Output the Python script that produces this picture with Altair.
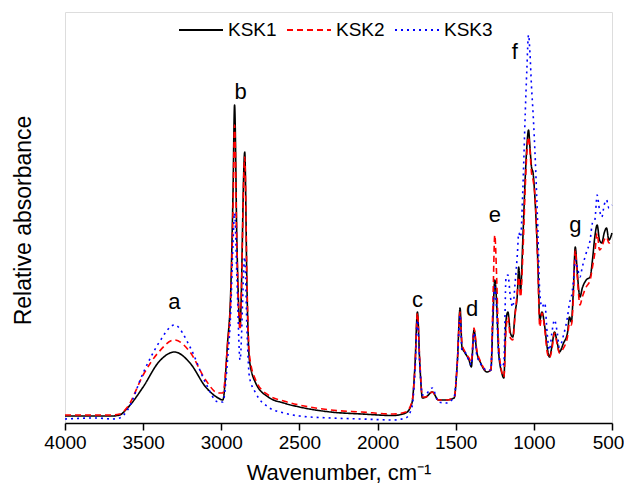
import altair as alt
import pandas as pd

# Espectros FTIR (absorbância relativa, unidades arbitrárias)
wavenumber = [4000, 3800, 3700, 3650, 3600, 3500, 3400, 3300, 3200, 3100, 3020, 2990,
              2960, 2940, 2925, 2915, 2900, 2880, 2850, 2835, 2820, 2780, 2700, 2600,
              2500, 2300, 2100, 1900, 1820, 1780, 1760, 1745, 1730, 1713, 1690, 1650,
              1610, 1560, 1510, 1490, 1472, 1460, 1440, 1415, 1400, 1383, 1365, 1340,
              1300, 1275, 1262, 1250, 1238, 1225, 1205, 1192, 1178, 1166, 1150, 1135,
              1120, 1105, 1097, 1085, 1070, 1055, 1045, 1034, 1025, 1015, 1005, 990,
              975, 962, 948, 930, 915, 900, 885, 868, 850, 837, 810, 785, 772, 760,
              748, 735, 722, 705, 690, 665, 640, 625, 610, 595, 580, 565, 550, 535,
              520, 500]
ksk1 = [7, 7, 7, 8, 15, 36, 61, 71, 60, 36, 25, 23,
        80, 130, 230, 318, 180, 98, 271, 130, 63, 40, 26, 20,
        16, 11, 9, 7.5, 10, 20, 60, 111, 60, 25, 26, 31,
        23, 23, 25, 60, 115, 76, 70, 63, 56, 93, 71, 60,
        51, 53, 103, 143, 120, 70, 50, 45, 103, 111, 90, 86,
        110, 130, 156, 133, 186, 246, 276, 293, 276, 256, 250, 216,
        163, 103, 111, 96, 76, 66, 76, 91, 80, 71, 80, 90, 106, 101,
        130, 176, 150, 126, 135, 143, 146, 163, 186, 198, 183, 180, 190, 195,
        183, 190]
ksk2 = [8, 8, 8, 9, 16, 48, 71, 83, 71, 43, 30, 30,
        78, 123, 213, 298, 175, 93, 266, 135, 68, 43, 28, 22,
        18, 13, 11, 9, 11, 21, 58, 110, 63, 26, 26, 31,
        23, 23, 25, 60, 111, 80, 71, 65, 61, 95, 73, 61,
        52, 53, 120, 188, 146, 78, 51, 46, 93, 106, 85, 83,
        108, 133, 146, 126, 170, 236, 270, 286, 273, 250, 243, 220,
        158, 96, 110, 93, 71, 65, 73, 90, 78, 70, 75, 86, 100, 98,
        123, 173, 146, 118, 126, 136, 143, 156, 170, 190, 173, 176, 183, 186,
        180, 183]
ksk3 = [4, 5, 4, 5, 13, 50, 80, 98, 76, 40, 21, 21,
        63, 110, 180, 210, 146, 63, 166, 90, 46, 30, 16, 10,
        7, 5, 4, 3, 5, 16, 53, 103, 58, 28, 29, 35,
        21, 20, 26, 60, 108, 73, 71, 62, 58, 90, 68, 59,
        53, 53, 110, 136, 113, 68, 56, 60, 146, 148, 126, 116,
        140, 170, 190, 186, 236, 310, 353, 388, 370, 336, 310, 260,
        196, 130, 116, 120, 90, 73, 90, 103, 90, 76, 88, 106, 120, 126,
        140, 163, 156, 146, 156, 170, 183, 200, 203, 228, 213, 206, 218, 223,
        215, 218]

series_names = ['KSK1', 'KSK2', 'KSK3']

# Letras das bandas
band_labels = ['a', 'b', 'c', 'd', 'e', 'f', 'g']
band_wn = [3300, 2876, 1745, 1395, 1250, 1122, 735]
band_h = [121, 331, 123, 114, 208, 371, 198]

frames = []
for name, vals in zip(series_names, [ksk1, ksk2, ksk3]):
    frames.append(pd.DataFrame({'wn': wavenumber, 'abs': vals, 'amostra': name}))
df = pd.concat(frames, ignore_index=True)
df_bands = pd.DataFrame({'wn': band_wn, 'h': band_h, 'txt': band_labels})

FONT = 'Liberation Sans'
x_scale = alt.Scale(domain=[500, 4000], reverse=True, nice=False)
y_scale = alt.Scale(domain=[0, 411], nice=False)

legend_cfg = dict(title=None, orient='none', direction='horizontal',
                  legendX=113, legendY=-5, symbolType='stroke',
                  symbolSize=1936, symbolStrokeWidth=1.8,
                  labelFont=FONT, labelFontSize=19, labelColor='black',
                  labelOffset=4, columnPadding=6)

lines = alt.Chart(df).mark_line(interpolate='monotone', strokeWidth=1.6).encode(
    x=alt.X('wn:Q', scale=x_scale,
            axis=alt.Axis(title='Wavenumber, cm⁻¹', values=list(range(500, 4001, 250)),
                          labelExpr="datum.value % 500 === 0 ? format(datum.value, 'd') : ''",
                          orient='bottom',
                          tickSize={'condition': {'test': 'datum.value % 500 === 0', 'value': 7},
                                    'value': 4},
                          labelOffset={'condition': {'test': 'datum.value === 500', 'value': -4},
                                       'value': 0},
                          tickWidth=1.5, tickColor='black',
                          domainColor='black', domainWidth=1.5, grid=False,
                          labelFont=FONT, labelFontSize=19, labelColor='black', labelPadding=3,
                          labelOverlap=False, labelFlush=False,
                          titleFont=FONT, titleFontSize=22, titleFontWeight='normal',
                          titleColor='black', titlePadding=10)),
    y=alt.Y('abs:Q', scale=y_scale,
            axis=alt.Axis(title='Relative absorbance', labels=False, ticks=False, domain=False,
                          grid=False, titleFont=FONT, titleFontSize=23,
                          titleFontWeight='normal', titleColor='black',
                          titleX=-42, titleY=208, titleAngle=-90,
                          titleAlign='center', titleBaseline='middle')),
    color=alt.Color('amostra:N',
                    scale=alt.Scale(domain=series_names, range=['black', '#ff0000', '#0000ff']),
                    legend=alt.Legend(**legend_cfg)),
    strokeDash=alt.StrokeDash('amostra:N',
                              scale=alt.Scale(domain=series_names, range=[[1, 0], [6, 4], [2, 4]]),
                              legend=alt.Legend(**legend_cfg)),
)

letters = alt.Chart(df_bands).mark_text(font=FONT, fontSize=22, color='black',
                                        baseline='middle').encode(
    x=alt.X('wn:Q', scale=x_scale),
    y=alt.Y('h:Q', scale=y_scale),
    text='txt:N'
)

chart = alt.layer(lines, letters).properties(
    width=547,
    height=411,
    autosize=alt.AutoSizeParams(type='none'),
    padding={'left': 57, 'top': 4, 'right': 12, 'bottom': 62}
).configure_view(stroke='black', strokeWidth=1.5).configure(background='white')

chart.save("out.html", embed_options={"renderer": "svg", "actions": False})
